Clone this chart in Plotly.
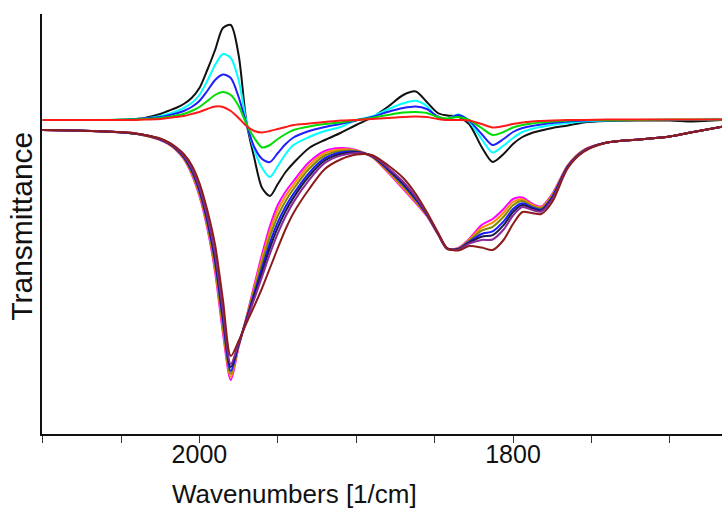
import plotly.graph_objects as go

# Wavenumber grid shared by all spectra (cm^-1, decreasing)
wavenumbers = [2100, 2080, 2060, 2045, 2035, 2025, 2020, 2015, 2010, 2005,
               2000, 1995, 1990, 1985, 1980, 1975, 1970, 1965, 1960, 1955,
               1950, 1945, 1940, 1930, 1920, 1910, 1900, 1890, 1880, 1870,
               1862, 1855, 1848, 1842, 1835, 1828, 1820, 1813, 1806, 1800,
               1794, 1788, 1782, 1775, 1765, 1755, 1740, 1720, 1700, 1685,
               1666]

# Difference spectra (upper set), transmittance in arbitrary units
diff_black = [314, 314, 314, 314.5, 316, 320, 323, 326, 330, 336,
              346, 364, 384, 406, 409, 379, 312, 276, 246, 238,
              250, 262, 271, 286, 294, 301, 309, 316.5, 327, 339,
              342.5, 332, 321, 318.5, 317.5, 310, 287, 272, 280, 290,
              297, 301, 303.5, 306, 308.5, 311.5, 313, 313.5, 313.5, 312.5,
              314]
diff_cyan = [314, 314, 314, 314.5, 315.5, 318, 320, 322.5, 326, 331,
             339, 353, 369, 380, 376, 354, 312, 284, 266, 257,
             268, 280, 289, 297, 303, 307, 314, 317.5, 324.5, 330.7,
             333.3, 328, 316, 315, 319.5, 312.5, 295, 281.5, 288.5, 296,
             302, 305, 307, 309, 311, 312.5, 313.5, 314, 314, 314,
             314.5]
diff_blue = [314, 314, 314, 314.5, 315.5, 317, 318.5, 320.5, 323, 327,
             333, 343, 354, 359.5, 356, 337, 310, 287, 275, 272,
             281, 290, 296.5, 303, 307, 310, 313.5, 317, 322, 326,
             327.5, 325, 317.5, 314.5, 319, 313.5, 300, 289, 295, 302,
             306, 308, 309.5, 311, 312.5, 313.5, 314, 314, 314, 314,
             314.5]
diff_green = [314, 314, 314, 314.5, 315, 316, 317, 318.5, 320, 323,
              327, 333, 339, 342, 339, 328, 310, 296, 286.5, 289,
              295, 300, 304, 307.5, 310, 311.5, 314, 316, 319, 321.5,
              322, 321, 317, 315.5, 317, 314, 306, 299, 302, 306.5,
              309, 310.5, 311.5, 312.5, 313.5, 314, 314, 314, 314.5, 314.5,
              314.5]
diff_red = [314, 314, 314, 314, 314.5, 315, 316, 317, 318, 320,
            322, 325, 327.5, 327, 323, 316, 308, 303, 301.5, 303,
            305, 307, 309, 310.5, 312, 313.5, 314, 315, 316, 317,
            317.5, 317, 315, 314, 314, 313.5, 310, 306.5, 308, 310,
            311.5, 312.5, 313, 313.5, 314, 314, 314.5, 314.5, 314.5, 314.5,
            314.5]

# Full spectra (lower set), transmittance in arbitrary units
spec_magenta = [304, 303.5, 302.5, 301, 298.5, 294, 290, 284, 275, 260,
                238, 206, 162, 101, 54, 87, 117, 149, 180, 208,
                229, 242.5, 253, 272, 283, 286, 284, 277, 262, 245,
                231, 218, 200, 185, 186, 195, 209, 215, 225, 235,
                236.5, 230.5, 227.5, 240, 269, 284, 291.5, 294.5, 297.5, 302,
                307.5]
spec_orange = [304, 303.5, 302.5, 301, 298.5, 294, 290.2, 284.4, 275.6, 261,
               239.6, 208.2, 165.2, 105, 57, 87.7, 116.3, 146.5, 175.9, 203,
               223.8, 238, 249.2, 268.8, 280.8, 284.6, 283.5, 277.2, 262.8, 246.3,
               232.1, 218.5, 200.2, 185, 185.7, 194.2, 206.3, 211.3, 221.3, 232,
               234.8, 229.4, 226.6, 239, 268.6, 283.8, 291.5, 294.5, 297.5, 302,
               307.5]
spec_olive = [304, 303.5, 302.5, 301, 298.5, 294.5, 290.5, 284.8, 276.2, 262.2,
              241.2, 210.5, 168.7, 109.2, 60, 88.5, 115.5, 143.7, 171.5, 197.5,
              218.2, 233.1, 245, 265.2, 278.5, 283.1, 282.9, 277.5, 263.7, 247.7,
              233.2, 219, 200.5, 185.2, 185.4, 193.2, 203.4, 207.2, 217.2, 228.7,
              232.9, 228.1, 225.6, 238, 268.2, 283.5, 291.5, 294.5, 297.5, 302,
              307.5]
spec_blue = [304, 303.5, 302.5, 301, 299, 294.5, 290.8, 285.2, 277, 263.6,
             243.2, 213.2, 172.8, 114.2, 63, 89.4, 114.6, 140.6, 166.4, 191.2,
             211.8, 227.5, 240.2, 261.2, 275.8, 281.4, 282.2, 277.8, 264.8, 249.4,
             234.6, 219.6, 200.8, 185.4, 185, 192.2, 200, 202.6, 212.6, 225,
             230.7, 226.7, 224.5, 236.8, 267.8, 283.2, 291.5, 294.5, 297.5, 302,
             307.5]
spec_navy = [304, 303.5, 302.5, 301, 299, 295, 291, 285.6, 277.6, 264.7,
             244.8, 215.4, 176, 118.2, 67, 90.1, 113.9, 138.1, 162.3, 186.2,
             206.6, 223, 236.4, 258, 273.6, 280, 281.7, 278, 265.6, 250.7,
             235.7, 220.1, 201, 185.5, 184.7, 191.4, 197.3, 198.9, 208.9, 222,
             229, 225.6, 223.6, 235.8, 267.4, 283, 291.5, 294.5, 297.5, 302,
             307.5]
spec_purple = [304, 303.5, 302.5, 301.5, 299, 295, 291.3, 286, 278.3, 266,
               246.6, 217.9, 179.8, 122.8, 70, 91, 113, 135.1, 157.6, 180.3,
               200.6, 217.7, 231.9, 254.2, 271.1, 278.4, 281, 278.3, 266.6, 252.3,
               236.9, 220.6, 201.3, 185.7, 184.3, 190.4, 194.1, 194.5, 204.5, 218.5,
               226.9, 224.2, 222.5, 234.7, 267, 282.7, 291.5, 294.5, 297.5, 302,
               307.5]
spec_brown = [304, 303.5, 302.5, 301.5, 299, 295.5, 292, 287, 280, 269,
              251, 224, 189, 134, 78, 93, 111, 128, 146, 166,
              186, 205, 221, 245, 265, 274.5, 279.5, 279, 269, 256,
              240, 222, 202, 186, 183.5, 188, 186.5, 184, 194, 210,
              222, 221, 220, 232, 266, 282, 291.5, 294.5, 297.5, 302,
              307.5]

lower_set = [
    (spec_magenta, "#ff00ff"),
    (spec_orange, "#ff8c00"),
    (spec_olive, "#7f8a00"),
    (spec_blue, "#1a1aff"),
    (spec_navy, "#1a1a4d"),
    (spec_purple, "#8a2a9a"),
    (spec_brown, "#8b1c1c"),
]
upper_set = [
    (diff_black, "#111111"),
    (diff_cyan, "#00ffff"),
    (diff_blue, "#2020ff"),
    (diff_green, "#00dd00"),
    (diff_red, "#ff1a1a"),
]

fig = go.Figure()
for values, color in lower_set + upper_set:
    fig.add_trace(go.Scatter(
        x=wavenumbers, y=values, mode="lines",
        line=dict(color=color, width=2, shape="spline", smoothing=0.8),
        hoverinfo="skip",
    ))

font_family = "Liberation Sans, Arial, sans-serif"

fig.update_layout(
    width=722, height=511,
    margin=dict(l=42, r=0, t=14, b=77),
    paper_bgcolor="white", plot_bgcolor="white",
    showlegend=False,
    font=dict(family=font_family, color="#111111"),
    xaxis=dict(
        range=[2100.4, 1666.7],
        showgrid=False, zeroline=False,
        showline=True, linecolor="#111111", linewidth=2,
        ticks="outside", ticklen=7, tickwidth=1.2, tickcolor="#333333",
        tick0=2000, dtick=200,
        minor=dict(dtick=50, ticks="outside", ticklen=7, tickwidth=1.2,
                   tickcolor="#333333"),
        tickfont=dict(size=25, family=font_family, color="#111111"),
        ticklabelstandoff=-10,
    ),
    yaxis=dict(
        range=[0, 420],
        showgrid=False, zeroline=False,
        showline=True, linecolor="#111111", linewidth=2,
        showticklabels=False, ticks="",
    ),
    annotations=[
        dict(text="Wavenumbers [1/cm]", xref="paper", yref="paper",
             x=0.3706, y=-0.143, xanchor="center", yanchor="middle",
             showarrow=False, font=dict(size=26, family=font_family, color="#111111")),
        dict(text="Transmittance", xref="paper", yref="paper",
             x=-0.03, y=0.495, xanchor="center", yanchor="middle",
             textangle=-90, showarrow=False,
             font=dict(size=30, family=font_family, color="#111111")),
    ],
)

fig.write_html("out.html")
